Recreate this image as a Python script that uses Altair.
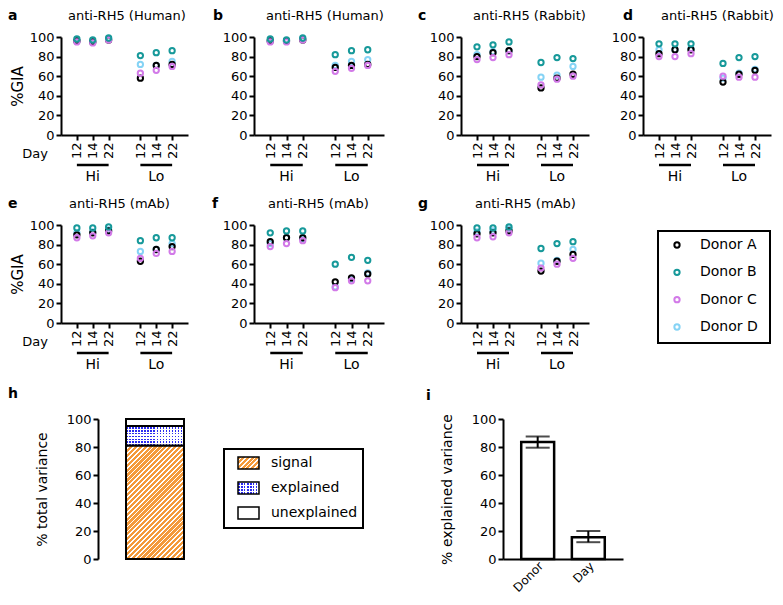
import altair as alt
import pandas as pd

FONT = "DejaVu Sans"

# ---------------- data ----------------
donors = ["Donor A", "Donor B", "Donor C", "Donor D"]
donor_colors = ["#000000", "#17999a", "#d27ae8", "#85d3f5"]
draw_order = ["Donor D", "Donor A", "Donor C", "Donor B"]

x_pos = [1, 2, 3, 5, 6, 7]
day_labels = ["12", "14", "22", "12", "14", "22"]
dose_groups = ["Hi", "Lo"]
group_start = [1, 5]
group_end = [3, 7]
group_center = [2, 6]

# %GIA per donor, order: Hi-12, Hi-14, Hi-22, Lo-12, Lo-14, Lo-22
gia_a = {"Donor A": [96, 95, 97, 58, 71, 72], "Donor B": [98, 97, 99, 81, 84, 86],
         "Donor C": [95, 94, 97, 63, 66, 70], "Donor D": [96, 95, 98, 72, 71, 75]}
gia_b = {"Donor A": [96, 96, 97, 69, 71, 72], "Donor B": [98, 97, 99, 82, 86, 87],
         "Donor C": [95, 95, 97, 65, 68, 71], "Donor D": [96, 96, 98, 71, 75, 77]}
gia_c = {"Donor A": [80, 84, 86, 48, 58, 62], "Donor B": [90, 92, 95, 74, 79, 78],
         "Donor C": [77, 79, 82, 51, 57, 60], "Donor D": [82, 85, 86, 59, 61, 70]}
gia_d = {"Donor A": [83, 87, 87, 54, 62, 66], "Donor B": [93, 93, 93, 73, 79, 80],
         "Donor C": [80, 80, 83, 60, 59, 59], "Donor D": [87, 87, 88, 58, 63, 67]}
gia_e = {"Donor A": [90, 92, 94, 63, 75, 78], "Donor B": [97, 97, 98, 84, 87, 87],
         "Donor C": [87, 89, 92, 66, 71, 73], "Donor D": [92, 93, 95, 73, 75, 81]}
gia_f = {"Donor A": [83, 87, 87, 42, 46, 50], "Donor B": [92, 94, 94, 60, 67, 64],
         "Donor C": [78, 81, 84, 36, 43, 43], "Donor D": [81, 87, 86, 37, 45, 51]}
gia_g = {"Donor A": [91, 92, 94, 53, 63, 70], "Donor B": [97, 97, 98, 76, 81, 83],
         "Donor C": [87, 88, 92, 56, 60, 66], "Donor D": [93, 94, 96, 61, 64, 75]}

panel_titles = ["anti-RH5 (Human)", "anti-RH5 (Human)", "anti-RH5 (Rabbit)", "anti-RH5 (Rabbit)",
                "anti-RH5 (mAb)", "anti-RH5 (mAb)", "anti-RH5 (mAb)"]

# panel h: variance decomposition (stacked)
h_parts = ["signal", "explained", "unexplained"]
h_values = [81, 14, 5]

# panel i: explained variance by factor
i_factors = ["Donor", "Day"]
i_mean = [83.5, 15.5]
i_low = [79.5, 12]
i_high = [87.5, 20]

y_ticks = [0, 20, 40, 60, 80, 100]

# ---------------- helpers ----------------
H1 = 98
H3 = 140


def stripes(w, h, period, base, line, line_frac, direction):
    if direction == "diag":
        r = h / w
        k = (1 + r) / (1 + r * r)
        x2, y2 = k, k * r
        length = (w + h) / 2 ** 0.5
    elif direction == "rows":
        x2, y2 = 0, 1
        length = h
    else:
        x2, y2 = 1, 0
        length = w
    n = max(1, int(round(length / period)))
    stops = []
    for i in range(n):
        a = round(i / n, 5)
        b = round((i + 1 - line_frac) / n, 5)
        c = round((i + 1) / n, 5)
        stops += [alt.GradientStop(color=base, offset=a), alt.GradientStop(color=base, offset=b),
                  alt.GradientStop(color=line, offset=b), alt.GradientStop(color=line, offset=c)]
    return alt.LinearGradient(gradient="linear", stops=stops, x1=0, y1=0, x2=x2, y2=y2)


def text_layer(txt, x, y, size, weight="normal", align="left"):
    return alt.Chart(pd.DataFrame({"t": [txt]})).mark_text(
        font=FONT, fontSize=size, fontWeight=weight, align=align, baseline="middle", color="black"
    ).encode(x=alt.value(x), y=alt.value(y), text="t:N")


color_enc = alt.Color("donor:N", scale=alt.Scale(domain=donors, range=donor_colors), legend=None)
label_expr = " : ".join(f"datum.value == {p} ? '{l}'" for p, l in zip(x_pos, day_labels)) + " : ''"


def scatter_panel(values, letter, title, width, letter_dx, title_dx, first_col):
    rows = [{"donor": d, "pos": p, "gia": v} for d in draw_order for p, v in zip(x_pos, values[d])]
    df = pd.DataFrame(rows)
    xs = alt.Scale(domain=[0, 8], nice=False, zero=False)
    ys = alt.Scale(domain=[0, 100], nice=False)
    xaxis = alt.Axis(values=x_pos, labelExpr=label_expr, labelAngle=-90, title=None)
    yaxis = alt.Axis(values=y_ticks, title="%GIA" if first_col else None, titleFontSize=15, titlePadding=4)
    pts = alt.Chart(df).mark_point(shape="circle", filled=False, size=28, strokeWidth=2, opacity=1).encode(
        x=alt.X("pos:Q", scale=xs, axis=xaxis),
        y=alt.Y("gia:Q", scale=ys, axis=yaxis),
        color=color_enc,
    )
    gdf = pd.DataFrame({"grp": dose_groups, "start": group_start, "end": group_end, "center": group_center})
    under = alt.Chart(gdf).mark_rule(strokeWidth=2.5, color="black").encode(
        x=alt.X("start:Q", scale=xs, axis=xaxis), x2="end:Q", y=alt.value(H1 + 30))
    glab = alt.Chart(gdf).mark_text(font=FONT, fontSize=14, color="black", baseline="middle").encode(
        x=alt.X("center:Q", scale=xs, axis=xaxis), y=alt.value(H1 + 42), text="grp:N")
    layers = [pts, under, glab,
              text_layer(letter, letter_dx, -21, 14, "bold"),
              text_layer(title, title_dx, -21, 13)]
    if first_col:
        layers.append(text_layer("Day", -13, H1 + 19, 13, align="right"))
    return alt.layer(*layers).properties(width=width, height=H1)


def spacer(w, h):
    return alt.Chart(pd.DataFrame({"v": [0]})).mark_point(opacity=0).encode(
        x=alt.X("v:Q", axis=None), y=alt.Y("v:Q", axis=None)).properties(width=w, height=h)


def donor_legend():
    ldf = pd.DataFrame({"donor": donors})
    ys = alt.Scale(domain=donors, range=[20, 102], padding=0)
    frame = alt.Chart(pd.DataFrame({"f": [0]})).mark_rect(fill="transparent", stroke="black", strokeWidth=2).encode(
        x=alt.value(0), x2=alt.value(112), y=alt.value(6), y2=alt.value(118))
    sym = alt.Chart(ldf).mark_point(shape="circle", filled=False, size=28, strokeWidth=2, opacity=1).encode(
        x=alt.value(19), y=alt.Y("donor:N", scale=ys, axis=None), color=color_enc)
    txt = alt.Chart(ldf).mark_text(font=FONT, fontSize=14, align="left", baseline="middle", color="black").encode(
        x=alt.value(42), y=alt.Y("donor:N", scale=ys, axis=None), text="donor:N")
    return alt.layer(frame, sym, txt).properties(width=112, height=118)


# ---------------- rows 1 & 2 ----------------
pa = scatter_panel(gia_a, "a", panel_titles[0], 127, -53, 7, True)
pb = scatter_panel(gia_b, "b", panel_titles[1], 130, -41, 12, False)
pc = scatter_panel(gia_c, "c", panel_titles[2], 128, -43, 12, False)
pd_ = scatter_panel(gia_d, "d", panel_titles[3], 128, -20, 18, False)
pe = scatter_panel(gia_e, "e", panel_titles[4], 127, -53, 8, True)
pf = scatter_panel(gia_f, "f", panel_titles[5], 130, -42, 14, False)
pg = scatter_panel(gia_g, "g", panel_titles[6], 128, -43, 14, False)

row1 = alt.hconcat(pa, spacer(66, H1), pb, spacer(77, H1), pc, spacer(54, H1), pd_, spacing=0, bounds="flush")
row2 = alt.hconcat(pe, spacer(66, H1), pf, spacer(77, H1), pg, spacer(69, H1), donor_legend(), spacing=0, bounds="flush")

# ---------------- panel h ----------------
h_lo, h_hi, acc = [], [], 0
for v in h_values:
    h_lo.append(acc)
    acc += v
    h_hi.append(acc)
hdf = pd.DataFrame({"part": h_parts, "lo": h_lo, "hi": h_hi, "cat": ["total"] * 3})
BAR_W = 58
px = H3 / 100.0
xb = alt.Scale(domain=["total"], range=[28, 28 + BAR_W], paddingInner=0, paddingOuter=0)
yb = alt.Scale(domain=[0, 100], nice=False)

ORANGE = "#f49a3a"
BLUE = "#2b2bf0"
CLEAR = "rgba(255,255,255,0)"

sig_fill = stripes(BAR_W, h_values[0] * px, 3.5, ORANGE, "#ffffff", 0.35, "diag")
exp_rows = stripes(BAR_W, h_values[1] * px, 3.0, "#ffffff", BLUE, 0.5, "rows")
exp_cols = stripes(BAR_W, h_values[1] * px, 3.0, CLEAR, "#ffffff", 0.5, "cols")


def hbar(part, axis, **mk):
    return alt.Chart(hdf).transform_filter(alt.datum.part == part).mark_bar(**mk).encode(
        x=alt.X("cat:N", scale=xb, axis=None), y=alt.Y("lo:Q", scale=yb, axis=axis), y2="hi:Q")


h_axis = alt.Axis(values=y_ticks, title="% total variance", titleFontSize=14, titlePadding=17)
b_sig = hbar("signal", h_axis, fill=sig_fill, stroke="black", strokeWidth=2)
b_exp1 = hbar("explained", None, fill=exp_rows, strokeWidth=0)
b_exp2 = hbar("explained", None, fill=exp_cols, stroke="black", strokeWidth=2)
b_une = hbar("unexplained", None, fill="white", stroke="black", strokeWidth=2)

SW_W, SW_H = 21, 12
sw_path = "M-1,-0.5714H1V0.5714H-1Z"
sw_size = SW_W * SW_W
ly = alt.Scale(domain=h_parts, range=[44, 94], padding=0)
ldf = pd.DataFrame({"part": h_parts})


def swatch(part, **mk):
    return alt.Chart(ldf).transform_filter(alt.datum.part == part).mark_point(
        shape=sw_path, size=sw_size, filled=True, opacity=1, **mk).encode(
        x=alt.value(150.5), y=alt.Y("part:N", scale=ly, axis=None))


h_frame = alt.Chart(pd.DataFrame({"f": [0]})).mark_rect(fill="transparent", stroke="black", strokeWidth=2).encode(
    x=alt.value(126), x2=alt.value(265), y=alt.value(30), y2=alt.value(109))
s_sig = swatch("signal", fill=stripes(SW_W, SW_H, 3.5, ORANGE, "#ffffff", 0.35, "diag"), stroke="black", strokeWidth=1.5)
s_exp1 = swatch("explained", fill=stripes(SW_W, SW_H, 3.0, "#ffffff", BLUE, 0.5, "rows"), strokeWidth=0)
s_exp2 = swatch("explained", fill=stripes(SW_W, SW_H, 3.0, CLEAR, "#ffffff", 0.5, "cols"), stroke="black", strokeWidth=1.5)
s_une = swatch("unexplained", fill="white", stroke="black", strokeWidth=1.5)
h_txt = alt.Chart(ldf).mark_text(font=FONT, fontSize=14, align="left", baseline="middle", color="black").encode(
    x=alt.value(173), y=alt.Y("part:N", scale=ly, axis=None), text="part:N")

panel_h = alt.layer(
    b_sig, b_exp1, b_exp2, b_une, h_frame, s_sig, s_exp1, s_exp2, s_une, h_txt,
    text_layer("h", -90, -25, 14, "bold"),
).resolve_scale(x="independent", y="independent").properties(width=265, height=H3)

# ---------------- panel i ----------------
idf = pd.DataFrame({"factor": i_factors, "mean": i_mean, "lo": i_low, "hi": i_high})
xi = alt.Scale(domain=i_factors, paddingInner=0.35, paddingOuter=0.36)
yi = alt.Scale(domain=[0, 100], nice=False)
i_xaxis = alt.Axis(title=None, labelAngle=-45, ticks=False, labelFontSize=12, labelPadding=1)
i_yaxis = alt.Axis(values=y_ticks, title="% explained variance", titleFontSize=14, titlePadding=17)
i_bars = alt.Chart(idf).mark_bar(fill="white", stroke="black", strokeWidth=2.5).encode(
    x=alt.X("factor:N", scale=xi, axis=i_xaxis), y=alt.Y("mean:Q", scale=yi, axis=i_yaxis))
i_err = alt.Chart(idf).mark_rule(strokeWidth=2, color="black").encode(
    x=alt.X("factor:N", scale=xi, axis=i_xaxis), y=alt.Y("lo:Q", scale=yi, axis=i_yaxis), y2="hi:Q")
i_cap_lo = alt.Chart(idf).mark_tick(size=24, thickness=2, color="black").encode(
    x=alt.X("factor:N", scale=xi, axis=i_xaxis), y=alt.Y("lo:Q", scale=yi, axis=i_yaxis))
i_cap_hi = alt.Chart(idf).mark_tick(size=24, thickness=2, color="black").encode(
    x=alt.X("factor:N", scale=xi, axis=i_xaxis), y=alt.Y("hi:Q", scale=yi, axis=i_yaxis))
panel_i = alt.layer(i_bars, i_err, i_cap_lo, i_cap_hi, text_layer("i", -77, -23, 14, "bold")).properties(
    width=120, height=H3)

row3 = alt.hconcat(spacer(37, H3), panel_h, spacer(140, H3), panel_i, spacing=0, bounds="flush")

top = alt.vconcat(row1, row2, spacing=13)
chart = alt.vconcat(top, row3, spacing=15).properties(
    padding={"left": 0, "top": 1, "right": 0, "bottom": 0}
).configure(font=FONT).configure_view(stroke=None).configure_axis(
    domainColor="black", domainWidth=2, tickColor="black", tickWidth=2, tickSize=5,
    labelColor="black", labelFont=FONT, labelFontSize=13, labelPadding=2,
    titleColor="black", titleFont=FONT, titleFontWeight="normal",
    grid=False, labelFlush=False, labelOverlap=False, labelBound=False,
)

chart.save("out.html", embed_options={"renderer": "svg", "actions": False})
